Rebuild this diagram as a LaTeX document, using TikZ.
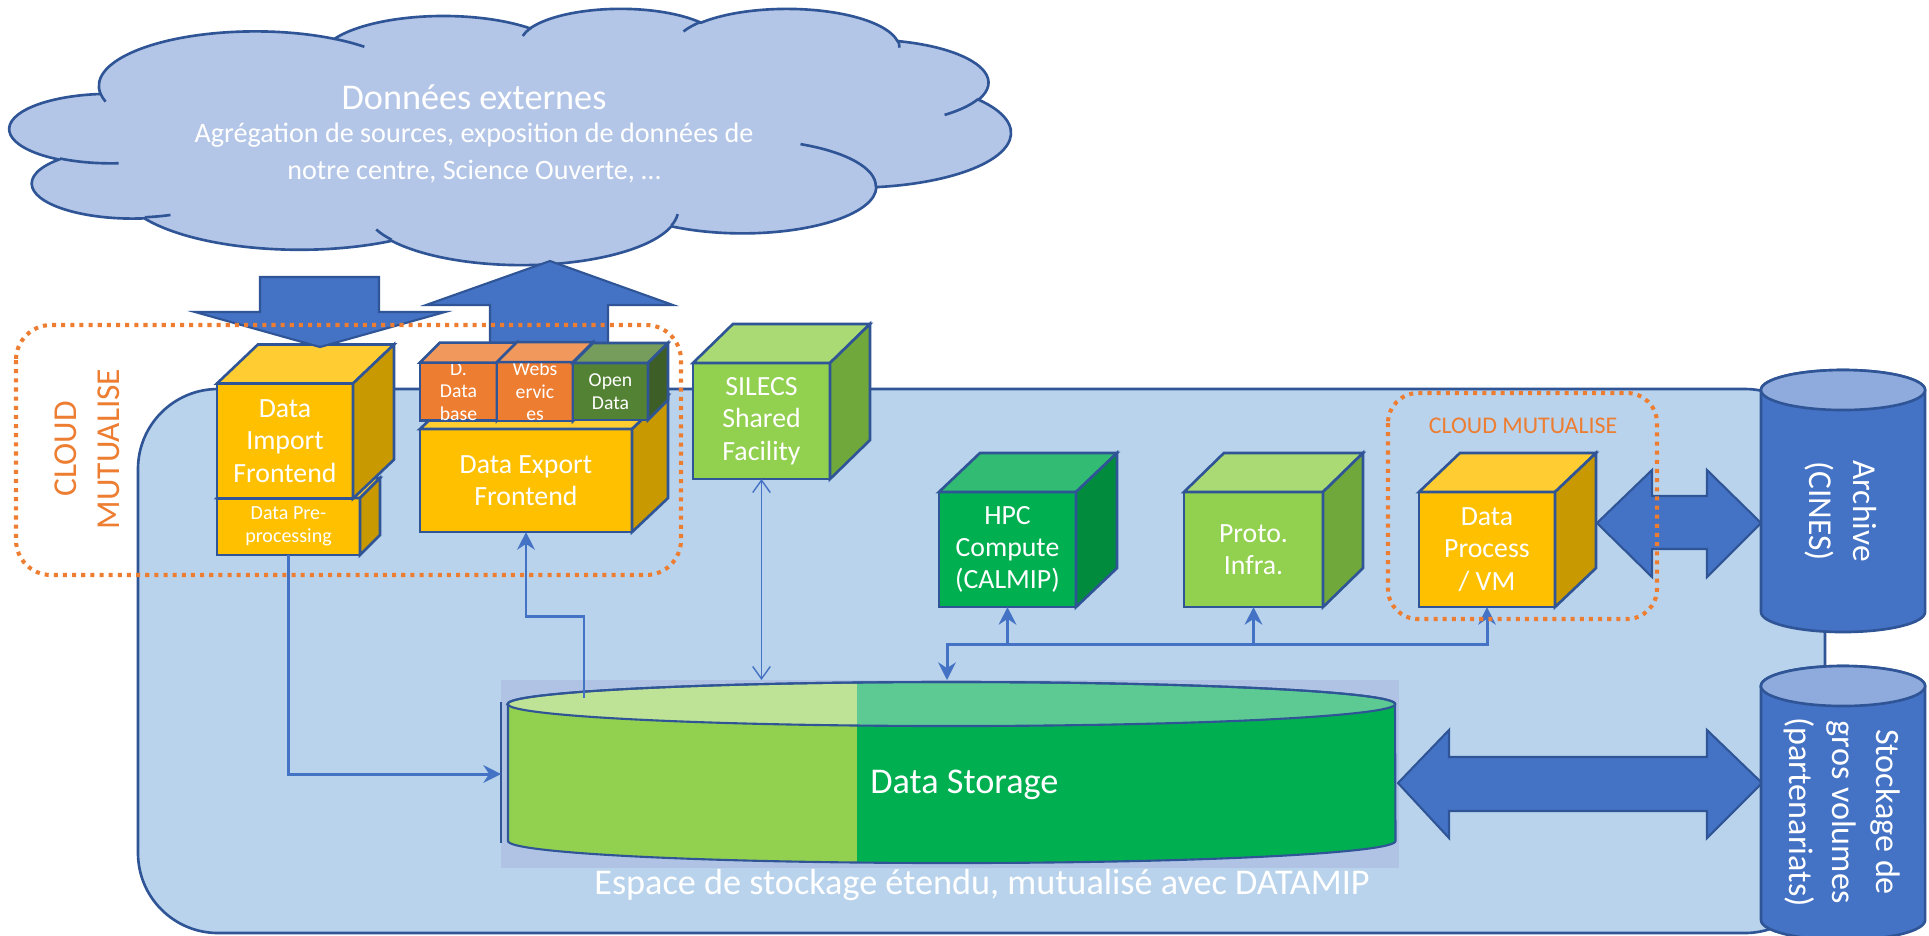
\documentclass[tikz,border=0pt]{standalone}
\usepackage{fontspec}
\setmainfont{Carlito}
\usetikzlibrary{calc,arrows.meta}
\definecolor{edge}{HTML}{2F5597}
\definecolor{region}{HTML}{B9D3EC}
\definecolor{cloudfill}{HTML}{B4C6E7}
\definecolor{arrowblue}{HTML}{4472C4}
\definecolor{orangeD}{HTML}{ED7D31}
\definecolor{yfront}{HTML}{FFC000}
\definecolor{ytop}{HTML}{FFCD32}
\definecolor{yside}{HTML}{C89900}
\definecolor{ofront}{HTML}{ED7D31}
\definecolor{otop}{HTML}{F1985C}
\definecolor{oside}{HTML}{C0621F}
\definecolor{gfront}{HTML}{548235}
\definecolor{gtop}{HTML}{779D5C}
\definecolor{gside}{HTML}{3D5F27}
\definecolor{lgfront}{HTML}{92D050}
\definecolor{lgtop}{HTML}{A9DA74}
\definecolor{lgside}{HTML}{71A83B}
\definecolor{hfront}{HTML}{00B050}
\definecolor{htop}{HTML}{32BB73}
\definecolor{hside}{HTML}{008C3C}
\definecolor{stbg}{HTML}{B0C3E5}
\definecolor{stLside}{HTML}{92D050}
\definecolor{stLtop}{HTML}{BEE296}
\definecolor{stRside}{HTML}{00B050}
\definecolor{stRtop}{HTML}{5DCA94}
\definecolor{cylbody}{HTML}{4472C4}
\definecolor{cyltop}{HTML}{8FAADC}
\newcommand\carc[4]{arc[start angle={atan2((#1)*sin(#3),(#2)*cos(#3))}, delta angle={Mod(atan2((#1)*sin((#3)+(#4)),(#2)*cos((#3)+(#4)))-atan2((#1)*sin(#3),(#2)*cos(#3)),360)}, x radius={(#1)/43.2*1pt}, y radius={(#2)/43.2*1pt}]}
\newcommand\cubeparts[5]{%
  \filldraw[cubeface, fill=#4] (#1.north west) -- ($(#1.north west)+(#2,#3)$) -- ($(#1.north east)+(#2,#3)$) -- (#1.north east) -- cycle;
  \filldraw[cubeface, fill=#5] (#1.north east) -- ($(#1.north east)+(#2,#3)$) -- ($(#1.south east)+(#2,#3)$) -- (#1.south east) -- cycle;
}
\newcommand\cubetxt{\fontsize{7.9}{9.2}\selectfont}
\newcommand\smalltxt{\fontsize{5.6}{6.4}\selectfont}
\newcommand\pretxt{\fontsize{5.7}{6.5}\selectfont}
\tikzset{
  cubefront/.style={draw=edge, line width=0.75pt, outer sep=0pt, inner sep=0pt, text=white, align=center},
  cubeface/.style={draw=edge, line width=0.75pt},
  conn/.style={draw=arrowblue, line width=0.85pt},
  endtip/.style={-{Stealth[length=5pt,width=5pt]}},
  bothtips/.style={{Stealth[length=5pt,width=5pt]}-{Stealth[length=5pt,width=5pt]}},
  thinconn/.style={draw=arrowblue, line width=0.4pt, {Straight Barb[length=3.5pt,width=5pt]}-{Straight Barb[length=3.5pt,width=5pt]}},
  blockarrow/.style={fill=arrowblue, draw=edge, line width=0.6pt},
  dotbox/.style={draw=orangeD, line width=1.15pt, dash pattern=on 1.15pt off 1.45pt},
  cylline/.style={draw=edge, line width=0.75pt},
}
\begin{document}
\begin{tikzpicture}[x=0.01cm, y=-0.01cm]
\path[use as bounding box] (0,0) rectangle (1929,935);
\clip (0,0) rectangle (1929,935);
\fill[white] (0,0) rectangle (1929,935);

% shared region
\draw[draw=edge, fill=region, line width=0.75pt, rounded corners=0.8cm] (138,389) rectangle (1825,933);

% cloud
\begin{scope}[shift={(10,8)}, x=1pt, y=1pt, xscale=0.284528, yscale=-0.072839]
\filldraw[fill=cloudfill, draw=edge, line width=0.75pt] (90.278,332.639)
  \carc{6753}{9190}{-190.4875}{123.7805}
  \carc{5333}{7267}{-144.1024}{89.9452}
  \carc{4365}{5945}{-145.8079}{99.7230}
  \carc{4857}{6595}{-130.9861}{117.2417}
  \carc{5333}{7273}{-78.7089}{109.0269}
  \carc{6775}{9220}{-46.2673}{130.2690}
  \carc{5785}{7867}{0.6250}{114.0333}
  \carc{6752}{9215}{22.4516}{115.1726}
  \carc{7720}{10543}{66.2426}{75.7110}
  \carc{4360}{5918}{-274.9421}{146.7356}
  \carc{4345}{5945}{-246.8285}{152.5189} -- cycle;
\draw[draw=edge, line width=0.75pt]
  (108.634,605.949) \carc{4345}{5945}{86.7420}{26.4295}
  (160.370,807.847) \carc{4360}{5918}{73.6105}{11.4475}
  (381.435,904.861) \carc{6752}{9215}{137.6242}{14.0811}
  (667.292,804.421) \carc{6752}{9215}{6.4533}{15.9984}
  (790.023,531.343) \carc{5785}{7867}{-70.2924}{70.9174}
  (967.546,355.417) \carc{5333}{7273}{30.3180}{27.7515}
  (887.130,125.602) \carc{4857}{6595}{-13.7443}{14.8622}
  (673.102,91.481) \carc{4857}{6595}{-149.1815}{18.1954}
  (512.523,109.259) \carc{4365}{5945}{-163.4943}{17.6864}
  (324.074,120.185) \carc{6753}{9190}{-66.7070}{12.3194}
  (95.532,365.486) \carc{6753}{9190}{157.6544}{11.8582};
\end{scope}
\node[text=white, font=\fontsize{10.3}{12}\selectfont] (ctitle) at (474,97) {Données externes};
\node[text=white, align=center, font=\fontsize{8}{10.4}\selectfont] (csub) at (474,153) {Agrégation de sources, exposition de données de\\notre centre, Science Ouverte, …};

% data storage
\fill[stbg] (501,680) rectangle (1399,868);
\draw[draw=edge, line width=0.4pt] (501,702) -- (501,843);
\begin{scope}
\clip (0,0) rectangle (857,935);
\fill[stLside] (508,704) -- (508,841) arc[start angle=180, end angle=360, x radius=4.435cm, y radius=0.22cm] -- (1395,704) arc[start angle=0, end angle=180, x radius=4.435cm, y radius=0.22cm] -- cycle;
\fill[stLtop] (951.5,704) ellipse [x radius=4.435cm, y radius=0.22cm];
\end{scope}
\begin{scope}
\clip (857,0) rectangle (1929,935);
\fill[stRside] (508,704) -- (508,841) arc[start angle=180, end angle=360, x radius=4.435cm, y radius=0.22cm] -- (1395,704) arc[start angle=0, end angle=180, x radius=4.435cm, y radius=0.22cm] -- cycle;
\fill[stRtop] (951.5,704) ellipse [x radius=4.435cm, y radius=0.22cm];
\end{scope}
\draw[draw=edge, line width=0.6pt] (508,704) -- (508,841) arc[start angle=180, end angle=360, x radius=4.435cm, y radius=0.22cm] -- (1395,704) arc[start angle=0, end angle=180, x radius=4.435cm, y radius=0.22cm] -- cycle;
\draw[draw=edge, line width=0.6pt] (951.5,704) ellipse [x radius=4.435cm, y radius=0.22cm];
\node[text=white, anchor=west, font=\fontsize{10.3}{12}\selectfont] (stlabel) at (858,785) {Data Storage};
\node[text=white, font=\fontsize{10.3}{12}\selectfont] (espace) at (982,885) {Espace de stockage étendu, mutualisé avec DATAMIP};

% up arrow (behind small cubes)
\filldraw[blockarrow] (490,350) -- (490,305) -- (426,305) -- (550,261) -- (673,305) -- (608,305) -- (608,350) -- cycle;

% cubes
\node[cubefront, fill=yfront, minimum width=1.43cm, minimum height=0.57cm, font=\pretxt] (pre) at (288.5,526.5) {Data Pre-\\processing};
\cubeparts{pre}{20}{-20}{ytop}{yside}
\node[cubefront, fill=yfront, minimum width=1.36cm, minimum height=1.15cm, font=\cubetxt] (imp) at (285,441) {Data\\Import\\Frontend};
\cubeparts{imp}{41}{-39}{ytop}{yside}
\node[cubefront, fill=yfront, minimum width=2.12cm, minimum height=1.03cm, font=\cubetxt] (exp) at (526,480.5) {Data Export\\Frontend};
\cubeparts{exp}{36}{-34}{ytop}{yside}
\node[cubefront, fill=ofront, minimum width=0.77cm, minimum height=0.57cm, font=\smalltxt] (db) at (458.5,391.5) {D.\\Data\\base};
\cubeparts{db}{20}{-20}{otop}{oside}
\node[cubefront, fill=ofront, minimum width=0.76cm, minimum height=0.57cm, font=\smalltxt] (ws) at (535,391.5) {Webs\\ervic\\es};
\cubeparts{ws}{20}{-20}{otop}{oside}
\node[cubefront, fill=gfront, minimum width=0.75cm, minimum height=0.57cm, font=\smalltxt] (od) at (610.5,391.5) {Open\\Data};
\cubeparts{od}{20}{-20}{gtop}{gside}
\node[cubefront, fill=lgfront, minimum width=1.37cm, minimum height=1.16cm, font=\cubetxt] (sil) at (761.5,421) {SILECS\\Shared\\Facility};
\cubeparts{sil}{40}{-39}{lgtop}{lgside}
\node[cubefront, fill=hfront, minimum width=1.37cm, minimum height=1.15cm, font=\cubetxt] (hpc) at (1007.5,549.5) {HPC\\Compute\\(CALMIP)};
\cubeparts{hpc}{41}{-39}{htop}{hside}
\node[cubefront, fill=lgfront, minimum width=1.39cm, minimum height=1.15cm, font=\cubetxt] (pro) at (1253.5,549.5) {Proto.\\Infra.};
\cubeparts{pro}{40}{-39}{lgtop}{lgside}
\node[cubefront, fill=yfront, minimum width=1.36cm, minimum height=1.15cm, font=\cubetxt] (dp) at (1487,549.5) {Data\\Process\\/ VM};
\cubeparts{dp}{41}{-39}{ytop}{yside}

% down arrow
\filldraw[blockarrow] (260,277) -- (379,277) -- (379,312) -- (445,312) -- (320,347) -- (195,312) -- (260,312) -- cycle;

% connectors
\coordinate (stL) at (501,774);
\coordinate (stE) at (584,698);
\coordinate (stS) at (761.5,680);
\coordinate (stC) at (947,680);
\coordinate (jn) at (947,644);
\draw[conn, endtip] (pre.south) |- (stL);
\draw[conn, endtip] (stE) -- ($(stE)+(0,-82)$) -| (exp.south);
\draw[thinconn] (stS) -- (sil.south);
\draw[conn, bothtips] (stC) -- (jn) -| (dp.south);
\draw[conn, endtip] (hpc.south |- jn) -- (hpc.south);
\draw[conn, endtip] (pro.south |- jn) -- (pro.south);

% double arrows
\filldraw[blockarrow] (1597,523) -- (1652,470) -- (1652,496) -- (1707,496) -- (1707,470) -- (1761,523) -- (1707,577) -- (1707,549) -- (1652,549) -- (1652,577) -- cycle;
\filldraw[blockarrow] (1398,783) -- (1449,730) -- (1449,757) -- (1707,757) -- (1707,730) -- (1762,783) -- (1707,838) -- (1707,811) -- (1449,811) -- (1449,838) -- cycle;

% cylinders
\filldraw[cylline, fill=cylbody] (1761,390) -- (1761,612) arc[start angle=180, end angle=360, x radius=0.82cm, y radius=0.2cm] -- (1925,390) arc[start angle=0, end angle=180, x radius=0.82cm, y radius=0.2cm] -- cycle;
\filldraw[cylline, fill=cyltop] (1843,390) ellipse [x radius=0.82cm, y radius=0.2cm];
\filldraw[cylline, fill=cylbody] (1761,686) -- (1761,920) arc[start angle=180, end angle=360, x radius=0.82cm, y radius=0.2cm] -- (1925,686) arc[start angle=0, end angle=180, x radius=0.82cm, y radius=0.2cm] -- cycle;
\filldraw[cylline, fill=cyltop] (1843,686) ellipse [x radius=0.82cm, y radius=0.2cm];
\node[rotate=-90, text=white, align=center, font=\fontsize{9.5}{12.4}\selectfont] (arch) at (1841,511) {Archive\\(CINES)};
\node[rotate=-90, text=white, align=center, font=\fontsize{9.7}{12.4}\selectfont] (stk) at (1842,812) {Stockage de\\gros volumes\\(partenariats)};

% dotted cloud boxes
\draw[dotbox, rounded corners=0.35cm] (16,325) rectangle (681,575);
\draw[dotbox, rounded corners=0.3cm] (1388,393) rectangle (1657,619);
\node[rotate=90, text=orangeD, align=center, font=\fontsize{9.5}{12.2}\selectfont] (cm1) at (87.5,449) {CLOUD\\MUTUALISE};
\node[text=orangeD, font=\fontsize{6.8}{8}\selectfont] (cm2) at (1523,426) {CLOUD MUTUALISE};
\end{tikzpicture}
\end{document}
